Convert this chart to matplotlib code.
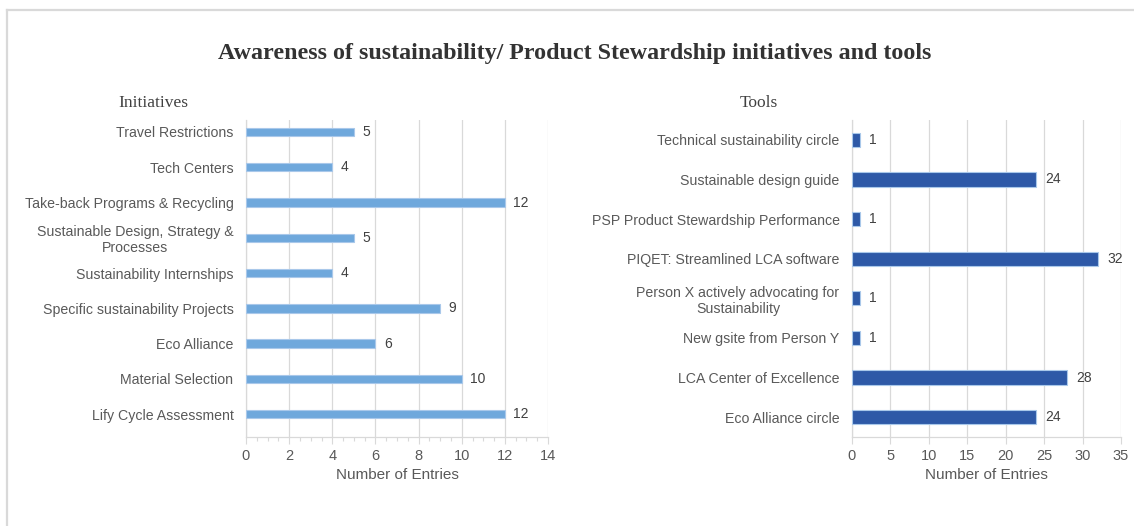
import matplotlib
matplotlib.use("Agg")
import matplotlib.pyplot as plt
from matplotlib.ticker import MultipleLocator
from matplotlib.lines import Line2D

# ---- data (bottom to top) ----
init_labels = ["Lify Cycle Assessment", "Material Selection", "Eco Alliance",
               "Specific sustainability Projects", "Sustainability Internships",
               "Sustainable Design, Strategy &\nProcesses",
               "Take-back Programs & Recycling", "Tech Centers", "Travel Restrictions"]
init_values = [12, 10, 6, 9, 4, 5, 12, 4, 5]

tool_labels = ["Eco Alliance circle", "LCA Center of Excellence", "New gsite from Person Y",
               "Person X actively advocating for\nSustainability",
               "PIQET: Streamlined LCA software", "PSP Product Stewardship Performance",
               "Sustainable design guide", "Technical sustainability circle"]
tool_values = [24, 28, 1, 1, 32, 1, 24, 1]

left_ticks = [0, 2, 4, 6, 8, 10, 12, 14]
right_ticks = [0, 5, 10, 15, 20, 25, 30, 35]

TXT = "#595959"
GRID = "#d9d9d9"

fig = plt.figure(figsize=(11.34, 5.26), dpi=100)
fig.patch.set_facecolor("white")

# frame
fig.add_artist(Line2D([7/1134, 1.0], [1 - 10/526, 1 - 10/526], color="#d9d9d9", lw=1.6,
                      transform=fig.transFigure))
fig.add_artist(Line2D([7/1134, 7/1134], [0, 1 - 10/526], color="#d9d9d9", lw=1.6,
                      transform=fig.transFigure))

fig.text(575/1134, 1 - 53/526, "Awareness of sustainability/ Product Stewardship initiatives and tools",
         ha="center", va="center", family="Liberation Serif", fontweight="bold",
         fontsize=17.3, color="#333333")
fig.text(153/1134, 1 - 103/526, "Initiatives", ha="center", va="center",
         family="Liberation Serif", fontsize=12.5, color="#404040")
fig.text(759/1134, 1 - 103/526, "Tools", ha="center", va="center",
         family="Liberation Serif", fontsize=12.5, color="#404040")


def style(ax, ticks, labels, values, color, height, ylim, xmax, minor, offset):
    y = list(range(len(labels)))
    ax.barh(y, values, height=height, color=color, edgecolor="#a9c8ea", linewidth=0.8, zorder=3)
    ax.set_ylim(*ylim)
    ax.set_xlim(0, xmax)
    ax.set_xticks(ticks)
    ax.set_xticklabels([str(t) for t in ticks], family="Liberation Sans", fontsize=10.5, color=TXT)
    ax.set_yticks(y)
    ax.set_yticklabels(labels, family="Liberation Sans", fontsize=10.2, color=TXT,
                       multialignment="center")
    if minor:
        ax.xaxis.set_minor_locator(MultipleLocator(minor))
        ax.tick_params(axis="x", which="minor", length=3, color=GRID, width=0.8)
    ax.tick_params(axis="x", which="major", length=5, color=GRID, width=0.8, pad=4)
    ax.tick_params(axis="y", length=0, pad=9)
    ax.grid(axis="x", which="major", color=GRID, lw=0.9, zorder=0)
    for s in ["top", "right"]:
        ax.spines[s].set_visible(False)
    for s in ["bottom", "left"]:
        ax.spines[s].set_color(GRID)
        ax.spines[s].set_linewidth(0.9)
    ax.set_xlabel("Number of Entries", family="Liberation Sans", fontsize=11, color=TXT, labelpad=3)
    for yi, v in zip(y, values):
        ax.text(v + offset, yi, str(v), va="center", ha="left",
                family="Liberation Sans", fontsize=10, color="#404040")


ax1 = fig.add_axes([246/1134, 1 - 437/526, 302/1134, 317/526])
style(ax1, left_ticks, init_labels, init_values, "#6fa8dc", 0.24, (-0.65, 8.34), 14, 0.5, 0.4)

ax2 = fig.add_axes([852/1134, 1 - 437/526, 269/1134, 317/526])
style(ax2, right_ticks, tool_labels, tool_values, "#2e59a7", 0.36, (-0.5, 7.5), 35, None, 1.2)

fig.savefig("out.png", dpi=100, facecolor="white")
